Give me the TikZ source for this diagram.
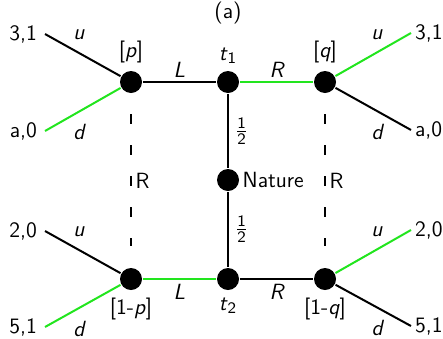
\documentclass[tikz,border=0pt]{standalone}
\usetikzlibrary{positioning}
\definecolor{cgreen}{HTML}{22E51E}
\tikzset{
  every picture/.style={font=\fontsize{11}{13}\sffamily, line width=1pt},
  dot/.style={circle, fill=black, minimum size=11pt, inner sep=0pt},
  lleaf/.style={inner sep=3.5pt, anchor=east},
  rleaf/.style={inner sep=1.5pt, anchor=west},
  best/.style={draw=cgreen},
  info/.style={line width=0.6pt, dash pattern=on 5pt off 10.5pt, shorten <=10pt, shorten >=10.5pt},
  act/.style={font=\fontsize{11}{13}\sffamily\itshape, inner sep=2pt},
}
\newcommand{\half}{$\frac{\mathsf{1}}{\mathsf{2}}$}
\begin{document}
\begin{tikzpicture}[x=0.5pt, y=-0.5pt]
  \useasboundingbox (0,0) rectangle (443,338);
  \node (title) at (228,13) {(a)};
  % decision nodes
  \node[dot] (p) at (131,82) {};
  \node[dot] (t1) at (228,82) {};
  \node[dot] (q) at (325,82) {};
  \node[dot] (nat) at (228,180) {};
  \node[dot] (np) at (131,279) {};
  \node[dot] (t2) at (228,279) {};
  \node[dot] (nq) at (325,279) {};
  \node[above=-0.5pt of p] (plbl) {[\textit{p}]};
  \node[above=-0.5pt of t1] (t1lbl) {\textit{t}$_{\mathsf{1}}$};
  \node[above=-0.5pt of q] (qlbl) {[\textit{q}]};
  \node[right=-2.5pt of nat] (natlbl) {Nature};
  \node[below=-0.5pt of np] (nplbl) {[1-\textit{p}]};
  \node[below=-0.5pt of t2] (t2lbl) {\textit{t}$_{\mathsf{2}}$};
  \node[below=-0.5pt of nq] (nqlbl) {[1-\textit{q}]};
  % payoffs
  \node[lleaf] (a1) at (45,34) {3,1};
  \node[lleaf] (a2) at (45,131) {a,0};
  \node[rleaf] (a3) at (411,33) {3,1};
  \node[rleaf] (a4) at (411,130) {a,0};
  \node[lleaf] (b1) at (45,231) {2,0};
  \node[lleaf] (b2) at (45,327) {5,1};
  \node[rleaf] (b3) at (411,230) {2,0};
  \node[rleaf] (b4) at (411,326) {5,1};
  % moves
  \draw (p) -- node[act, above] {L} (t1);
  \draw[best] (t1) -- node[act, above] {R} (q);
  \draw (t1) -- node[right, inner sep=3pt] {\half} (nat);
  \draw (nat) -- node[right, inner sep=3pt] {\half} (t2);
  \draw[best] (np) -- node[act, below] {L} (t2);
  \draw (t2) -- node[act, below] {R} (nq);
  \draw (p) -- node[act, above, pos=0.55, yshift=4pt] {u} (a1.east);
  \draw[best] (p) -- node[act, below, pos=0.55, yshift=-4pt] {d} (a2.east);
  \draw[best] (q) -- node[act, above, pos=0.55, yshift=4pt] {u} (a3.west);
  \draw (q) -- node[act, below, pos=0.55, yshift=-4pt] {d} (a4.west);
  \draw (np) -- node[act, above, pos=0.55, yshift=4pt] {u} (b1.east);
  \draw[best] (np) -- node[act, below, pos=0.55, yshift=-4pt] {d} (b2.east);
  \draw[best] (nq) -- node[act, above, pos=0.55, yshift=4pt] {u} (b3.west);
  \draw (nq) -- node[act, below, pos=0.55, yshift=-4pt] {d} (b4.west);
  % information sets
  \draw[info] (p) -- node[right, inner sep=2pt] {R} (np);
  \draw[info] (q) -- node[right, inner sep=2pt] {R} (nq);
\end{tikzpicture}
\end{document}
